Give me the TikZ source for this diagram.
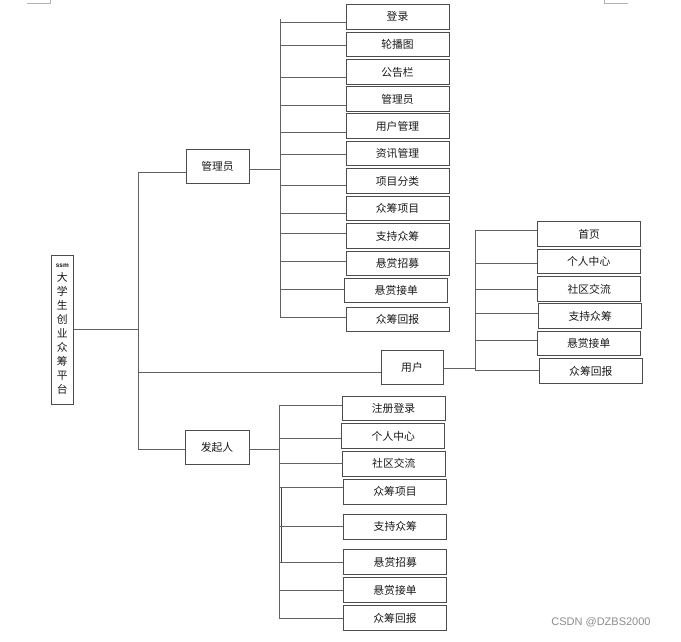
\documentclass[tikz,border=0pt]{standalone}
\usepackage{fontspec}
\setmainfont{Liberation Sans}
\newfontfamily\cjk{Noto Sans CJK SC}
\begin{document}
\begin{tikzpicture}[x=1pt,y=-1pt,
  box/.style={draw=black!70, line width=0.95pt, fill=white, rectangle, inner sep=0pt,
    font=\cjk\fontsize{10.8}{12}\selectfont, text=black!90},
  leaf/.style={box, minimum width=103pt, minimum height=24.5pt},
  mid/.style={box, minimum width=63pt, minimum height=34pt},
  conn/.style={draw=black!62, line width=1pt},
  cropmark/.style={draw=black!30, line width=0.8pt}]
\useasboundingbox (0,0) rectangle (681,641);
% crop marks
\draw[cropmark] (27,3.3) -- (50.7,3.3) -- (50.7,0);
\draw[cropmark] (604,0) -- (604,3.3) -- (627.7,3.3);
% buses
\coordinate (rb1) at (138,172); \coordinate (rb2) at (138,449);
\draw[conn] (rb1) -- (rb2);
\coordinate (ab1) at (280,19); \coordinate (ab2) at (280,318);
\draw[conn] (ab1) -- (ab2);
\coordinate (ub1) at (475,230.7); \coordinate (ub2) at (475,370);
\draw[conn] (ub1) -- (ub2);
\coordinate (fb1) at (279.3,405); \coordinate (fb2) at (279.3,618);
\draw[conn] (fb1) -- (fb2);
\coordinate (fx1) at (281.3,487.3); \coordinate (fx2) at (281.3,562);
\draw[conn, draw=black!75] (fx1) -- (fx2);
% root
\node[box, minimum width=22pt, minimum height=149pt, align=center,
  font=\cjk\fontsize{10.8}{14}\selectfont] (root) at (62.3,329.5)
  {{\fontsize{6.5}{8}\selectfont\bfseries\rmfamily ssm}\\大\\学\\生\\创\\业\\众\\筹\\平\\台};
\coordinate (rj) at (138,329);
\draw[conn] (root.east |- rj) -- (rj);
% mid nodes
\node[mid] (admin) at (217.5,166) {管理员};
\node[mid, minimum width=62pt] (user) at (412,367) {用户};
\node[mid, minimum width=64pt] (fqr) at (217,447) {发起人};
\draw[conn] (138,172) -- (admin.west |- 0,172);
\draw[conn] (138,372) -- (user.west |- 0,372);
\draw[conn] (138,449) -- (fqr.west |- 0,449);
\draw[conn] (admin.east |- 0,169) -- (280,169);
\draw[conn] (user.east |- 0,368.7) -- (475,368.7);
\draw[conn] (fqr.east |- 0,449) -- (279.3,449);
% admin leaves
\foreach \n/\cx/\cy/\ly/\t in {
  a1/397.5/16.8/22.7/登录, a2/397.5/44.5/45/轮播图, a3/397.5/72/77/公告栏,
  a4/397.5/99/105/管理员, a5/397.5/126/132/用户管理, a6/397.5/153.5/154/资讯管理,
  a7/397.5/181/185/项目分类, a8/397.5/208.7/213.7/众筹项目, a9/397.5/236/233/支持众筹,
  a10/397.5/263.3/261/悬赏招募, a11/396.3/290.5/289/悬赏接单, a12/397.5/319.5/317.7/众筹回报}{
  \node[leaf] (\n) at (\cx,\cy) {\t};
  \draw[conn] (280,\ly) -- (\n.west |- 0,\ly);
}
% user leaves
\foreach \n/\cx/\cy/\ly/\t in {
  u1/589.2/234/230.7/首页, u2/588.7/261.5/263/个人中心, u3/589.2/289/289/社区交流,
  u4/590.2/316/313/支持众筹, u5/588.7/343.5/340/悬赏接单, u6/590.8/371/370/众筹回报}{
  \node[leaf] (\n) at (\cx,\cy) {\t};
  \draw[conn] (475,\ly) -- (\n.west |- 0,\ly);
}
% founder leaves
\foreach \n/\cx/\cy/\ly/\t in {
  f1/393.5/408.7/405/注册登录, f2/393.3/436.2/438/个人中心, f3/393.8/463.8/463/社区交流,
  f4/395/491.8/487.3/众筹项目, f5/395.3/526.8/526.3/支持众筹, f6/395.3/562/562/悬赏招募,
  f7/395/590/590/悬赏接单, f8/395/618/618/众筹回报}{
  \node[leaf] (\n) at (\cx,\cy) {\t};
  \draw[conn] (279.3,\ly) -- (\n.west |- 0,\ly);
}
% watermark
\node[text=black!45, font=\fontsize{11}{13}\selectfont, inner sep=0pt] (wm) at (601,622) {CSDN @DZBS2000};
\end{tikzpicture}
\end{document}
